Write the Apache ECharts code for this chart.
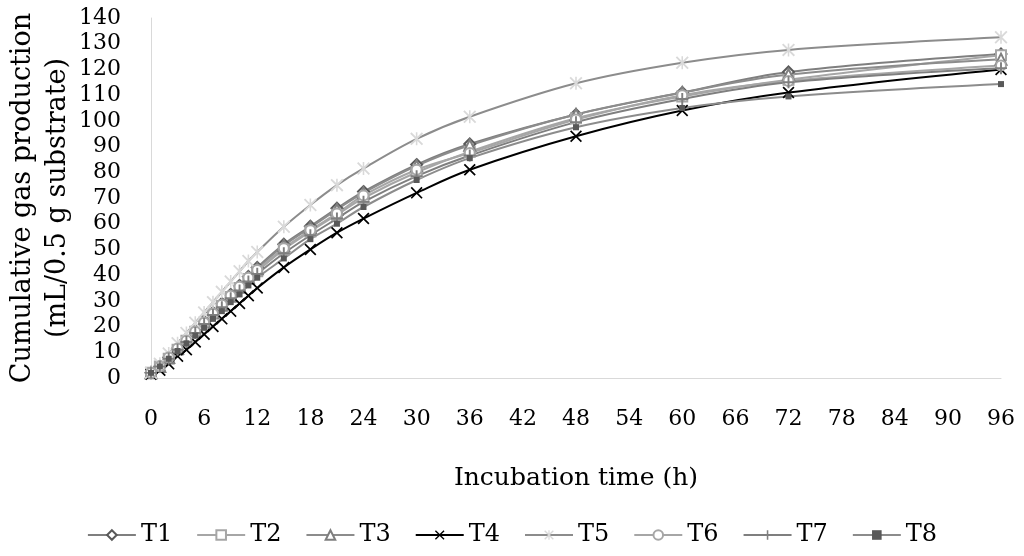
<!DOCTYPE html>
<html>
<head>
<meta charset="utf-8">
<script src="https://cdn.jsdelivr.net/npm/echarts@6/dist/echarts.min.js"></script>
<style>
  html, body { margin: 0; padding: 0; background: #fff; }
  #chart { width: 1024px; height: 556px; }
</style>
</head>
<body>
<div id="chart"></div>
<script>
// incubation hours
const hours = [0, 1, 2, 3, 4, 5, 6, 7, 8, 9, 10, 11, 12, 15, 18, 21, 24, 30, 36, 48, 60, 72, 96]
const yTicks = [0, 10, 20, 30, 40, 50, 60, 70, 80, 90, 100, 110, 120, 130, 140]

const t1 = [2, 4.5, 8, 11.5, 15, 18.5, 22, 25.5, 29, 32.5, 36, 39.5, 43, 52, 59, 66, 72.5, 83, 91, 102.5, 111, 119, 126]
const t2 = [2, 4.5, 7.5, 11, 14.5, 18, 21.5, 25, 28, 31.5, 35, 38.5, 41.5, 50, 57, 63.5, 70, 80, 88, 101, 109.5, 116, 125.5]
const t3 = [2, 4.5, 8, 11.5, 15, 18.5, 22, 25.5, 28.5, 32, 35.5, 39, 42.5, 51.5, 58.5, 65.5, 72, 82.5, 90.5, 102.5, 111, 118, 124]
const t4 = [1.5, 3, 5.5, 8.5, 11, 14, 17, 20, 23, 26, 29, 32, 35, 43, 50, 56.5, 62, 72, 81, 94, 104, 111, 120]
const t5 = [2, 5.5, 9.5, 13.5, 17.5, 21.5, 25.5, 29.5, 33.5, 37.5, 41.5, 45.5, 49, 58.8, 67.3, 75, 81.5, 93, 101.6, 114.6, 122.6, 127.6, 132.5]
const t6 = [2, 4.5, 8, 11.5, 14.5, 18, 21.5, 25, 28.5, 32, 35.5, 39, 42, 50.5, 57.5, 64, 71, 81, 87.5, 100.5, 110, 115.5, 121.5]
const t7 = [2, 4.5, 7.5, 11, 14, 17.5, 21, 24.5, 27.5, 31, 34, 37.5, 40.5, 48.5, 55.5, 62, 68.5, 78.5, 86.5, 99.5, 108.5, 115, 120.5]
const t8 = [2, 4.5, 7.5, 10.5, 13.5, 16.5, 19.5, 23, 26, 29.5, 32.5, 36, 39, 46.5, 54, 60, 66.5, 77, 85.5, 97.5, 105, 109.5, 114.3]

const names = ['T1', 'T2', 'T3', 'T4', 'T5', 'T6', 'T7', 'T8']
const values = [t1, t2, t3, t4, t5, t6, t7, t8]

const font = 'DejaVu Serif'
const crossPath = 'path://M0,1L1,0L5,4L9,0L10,1L6,5L10,9L9,10L5,6L1,10L0,9L4,5Z'
const plusPath = 'path://M4.2,0H5.8V4.2H10V5.8H5.8V10H4.2V5.8H0V4.2H4.2Z'
const starPath = 'path://M0,1L1,0L5,4L9,0L10,1L6,5L10,9L9,10L5,6L1,10L0,9L4,5Z M4.4,0L5.6,0L5.6,10L4.4,10Z'

// line colour, marker colour, symbol, hollow
const looks = [
  { line: '#7f7f7f', mark: '#595959', symbol: 'diamond', size: 11, hollow: true },
  { line: '#a6a6a6', mark: '#a6a6a6', symbol: 'rect', size: 10, hollow: true },
  { line: '#8c8c8c', mark: '#7f7f7f', symbol: 'triangle', size: 11, hollow: true },
  { line: '#000000', mark: '#000000', symbol: crossPath, size: 12, hollow: false },
  { line: '#8c8c8c', mark: '#d9d9d9', symbol: starPath, size: 13, hollow: false },
  { line: '#a6a6a6', mark: '#a6a6a6', symbol: 'circle', size: 10, hollow: true },
  { line: '#7f7f7f', mark: '#7f7f7f', symbol: plusPath, size: 12, hollow: false },
  { line: '#8c8c8c', mark: '#595959', symbol: 'rect', size: 6, hollow: false }
]

const series = names.map((n, i) => {
  const lk = looks[i]
  return {
    name: n,
    type: 'line',
    smooth: 0.35,
    data: hours.map((h, j) => [h, values[i][j]]),
    symbol: lk.symbol,
    symbolSize: lk.size,
    lineStyle: { color: lk.line, width: 2 },
    itemStyle: lk.hollow
      ? { color: '#fff', borderColor: lk.mark, borderWidth: 2 }
      : { color: lk.mark, borderWidth: 0 }
  }
})

const option = {
  animation: false,
  backgroundColor: '#fff',
  grid: { left: 151, right: 23, top: 18, bottom: 178, containLabel: false, outerBoundsMode: 'none' },
  legend: {
    bottom: 4,
    left: 'center',
    itemWidth: 48,
    itemHeight: 12,
    itemGap: 24,
    textStyle: { fontFamily: font, fontSize: 24, color: '#000' },
    data: names
  },
  xAxis: {
    type: 'value',
    min: 0,
    max: 96,
    interval: 6,
    name: 'Incubation time (h)',
    nameLocation: 'middle',
    nameGap: 88,
    nameTextStyle: { fontFamily: font, fontSize: 25, color: '#000' },
    axisLine: { show: true, lineStyle: { color: '#d9d9d9', width: 1 } },
    axisTick: { show: false },
    splitLine: { show: false },
    axisLabel: { fontFamily: font, fontSize: 22, color: '#000', margin: 30 }
  },
  yAxis: {
    type: 'value',
    min: yTicks[0],
    max: yTicks[yTicks.length - 1],
    interval: 10,
    name: 'Cumulative gas production\n(mL/0.5 g substrate)',
    nameLocation: 'middle',
    nameGap: 76,
    nameMoveOverlap: false,
    nameTextStyle: { fontFamily: font, fontSize: 27, color: '#000', lineHeight: 35 },
    axisLine: { show: true, lineStyle: { color: '#d9d9d9', width: 1 } },
    axisTick: { show: false },
    splitLine: { show: false },
    axisLabel: { fontFamily: font, fontSize: 22, color: '#000', margin: 30 }
  },
  series: series
}

const myChart = echarts.init(document.getElementById('chart'))
myChart.setOption(option)
</script>
</body>
</html>
